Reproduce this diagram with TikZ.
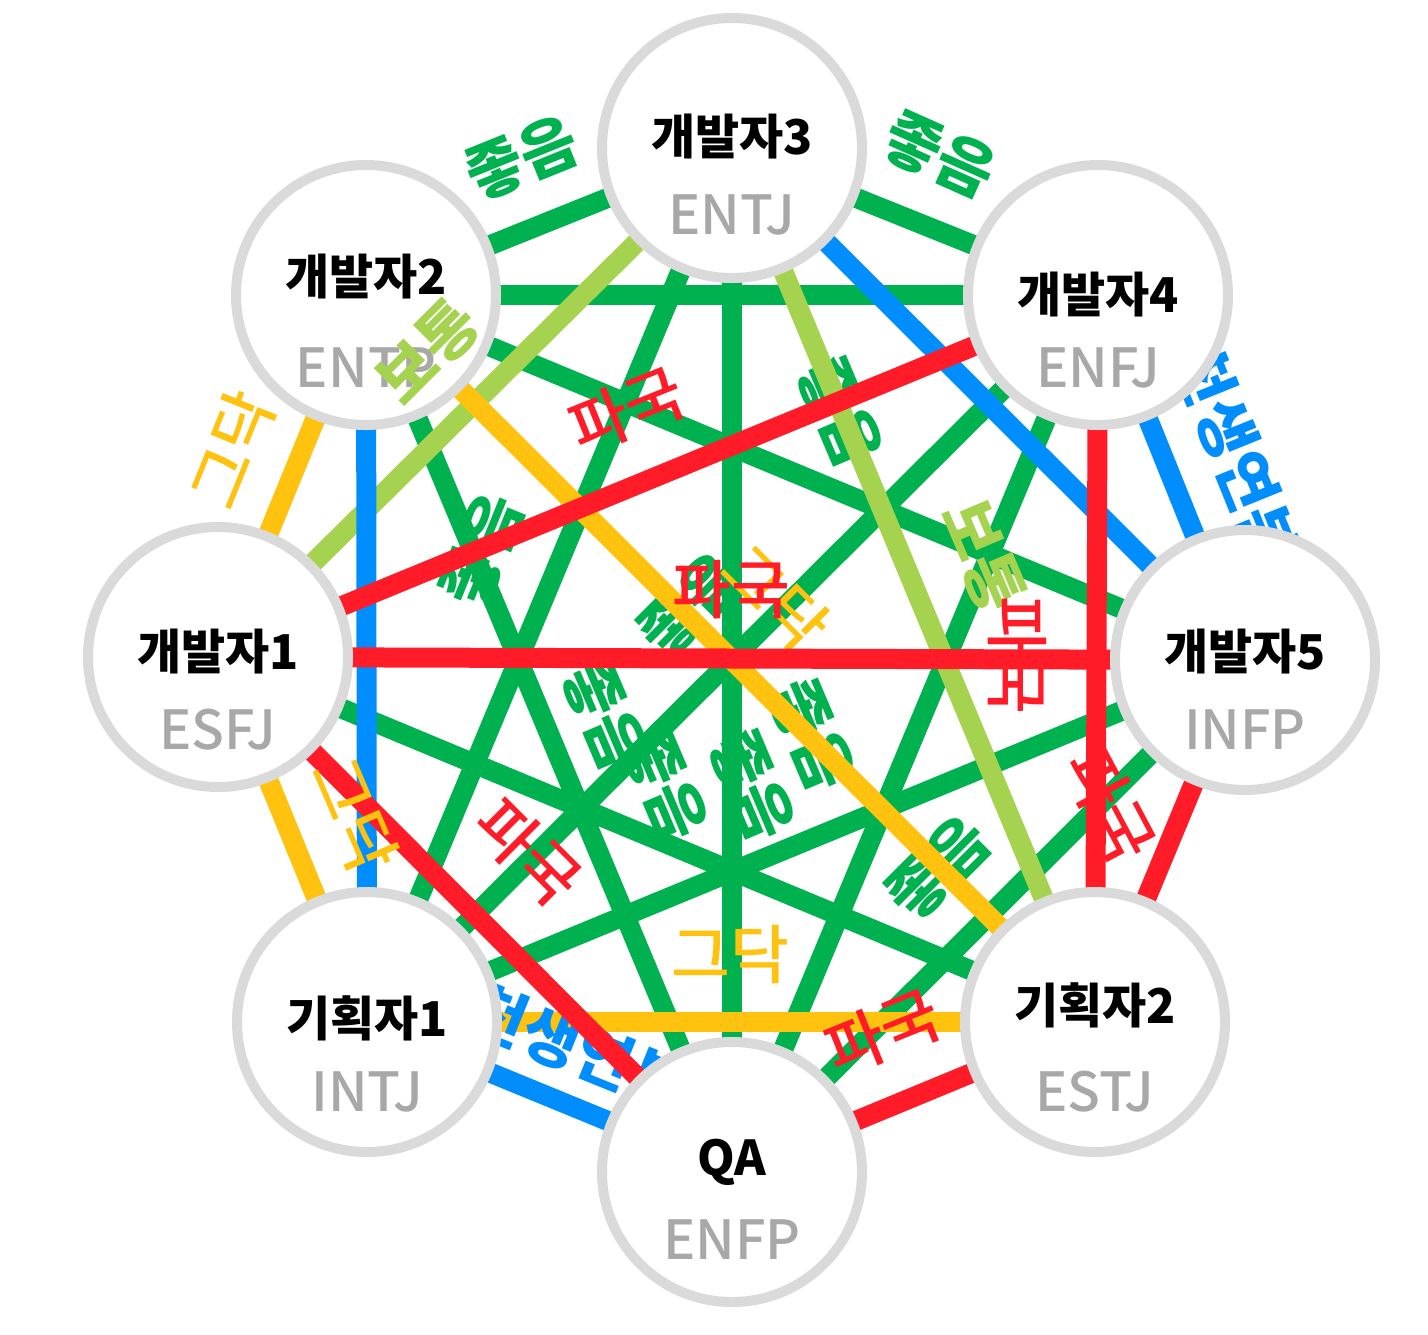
\documentclass[tikz,border=0pt]{standalone}
\usepackage{fontspec}
\setmainfont{Noto Sans CJK KR}
\newfontfamily\krmed{Noto Sans CJK KR Medium}
\usetikzlibrary{calc}
\definecolor{cg}{RGB}{0,177,79}
\definecolor{clg}{RGB}{165,211,80}
\definecolor{cy}{RGB}{255,194,14}
\definecolor{cr}{RGB}{255,28,40}
\definecolor{cb}{RGB}{0,142,255}
\definecolor{ring}{RGB}{218,218,218}
\definecolor{mbtigray}{RGB}{168,168,168}
\pgfdeclarelayer{paper}
\pgfdeclarelayer{bg}
\pgfdeclarelayer{fg}
\pgfsetlayers{paper,bg,main,fg}
\tikzset{
  person/.style={circle, draw=ring, line width=5pt, fill=white, minimum size=130pt, inner sep=0pt},
  pname/.style={inner sep=0pt, text=black, font=\bfseries\fontsize{24pt}{24pt}\selectfont},
  pmbti/.style={inner sep=0pt, text=mbtigray, font=\krmed\fontsize{27pt}{27pt}\selectfont},
  edge/.style={line width=10pt},
  labb/.style={inner sep=0pt, font=\bfseries\fontsize{31pt}{31pt}\selectfont},
  labm/.style={inner sep=0pt, font=\krmed\fontsize{32pt}{32pt}\selectfont},
}
\newcommand\mkperson[7]{%
  \node[person] (#1) at (#2,#3) {};
  \node[pname] (#1n) at ($(#1.center)+(0,#6)$) {#4};
  \node[pmbti] (#1t) at ($(#1.center)+(0,#7)$) {#5};}
\begin{document}
\begin{tikzpicture}[x=0.5pt,y=-0.5pt]
\begin{pgfonlayer}{paper}
\fill[white] (0,0) rectangle (1428,1334);
\end{pgfonlayer}
\useasboundingbox (0,0) rectangle (1428,1334);
% nodes
\mkperson{D3}{732}{148}{개발자3}{ENTJ}{-11}{67}
\mkperson{D2}{366}{295}{개발자2}{ENTP}{-18}{73}
\mkperson{D4}{1098}{295}{개발자4}{ENFJ}{0}{73}
\mkperson{D1}{218}{657}{개발자1}{ESFJ}{-5}{73}
\mkperson{D5}{1245}{660}{개발자5}{INFP}{-8}{70}
\mkperson{P1}{367}{1022}{기획자1}{INTJ}{-4}{70}
\mkperson{P2}{1095}{1022}{기획자2}{ESTJ}{-17}{70}
\mkperson{QA}{732}{1172}{QA}{ENFP}{-10}{68}
\begin{pgfonlayer}{bg}
% green edges
\foreach \a/\b in {D2/D3,D3/D4,D2/D4,D2/D5,D2/QA,D3/P1,D3/QA,D4/P1,D4/QA,D1/P2,D5/P1,D5/QA}
  \draw[edge, draw=cg] (\a.center) -- (\b.center);
% green labels
\node[labb, text=cg, rotate=22]  (G1) at (522,158) {좋음};
\node[labb, text=cg, rotate=-24] (G2) at (940,155) {좋음};
\node[labb, text=cg, rotate=-67] (G3) at (840,412) {좋음};
\node[labb, text=cg, rotate=68]  (G4) at (482,550) {좋음};
\node[labb, text=cg, rotate=45]  (G5) at (690,605) {좋음};
\node[labb, text=cg, rotate=-67] (G6) at (605,715) {좋음};
\node[labb, text=cg, rotate=-67] (G7) at (665,785) {좋음};
\node[labb, text=cg, rotate=-67] (G8) at (752,785) {좋음};
\node[labb, text=cg, rotate=-67] (G9) at (812,735) {좋음};
\node[labb, text=cg, rotate=45]  (G10) at (938,868) {좋음};
% light green
\foreach \a/\b in {D1/D3,D3/P2}
  \draw[edge, draw=clg] (\a.center) -- (\b.center);
\node[labb, text=clg, rotate=-67] (L2) at (983,556) {보통};
% yellow
\foreach \a/\b in {D1/D2,D1/P1,D2/P2,P1/P2}
  \draw[edge, draw=cy] (\a.center) -- (\b.center);
\node[labm, text=cy, rotate=68]  (Y1) at (232,450) {그닥};
\node[labm, text=cy, rotate=-45] (Y2) at (775,598) {그닥};
\node[labm, text=cy]             (Y4) at (730,955) {그닥};
% blue
\foreach \a/\b in {D2/P1,D3/D5,D4/D5,P1/QA}
  \draw[edge, draw=cb] (\a.center) -- (\b.center);
\node[labb, text=cb, rotate=-68] (B1) at (1237,455) {천생연분};
\node[labb, text=cb, rotate=-22] (B2) at (578,1048) {천생연분};
% red
\foreach \a/\b in {D1/D4,D1/D5,D1/QA,D4/P2,D5/P2,P2/QA}
  \draw[edge, draw=cr] (\a.center) -- (\b.center);
\node[labm, text=cy, rotate=-67] (Y3) at (355,815) {그닥};
\node[labm, text=cr, rotate=22]  (R1) at (627,410) {파국};
\node[labm, text=cr]             (R2) at (731,590) {파국};
\node[labm, text=cr, rotate=-90] (R3) at (1017,655) {파국};
\node[labm, text=cr, rotate=-62] (R4) at (1110,805) {파국};
\node[labm, text=cr, rotate=-45] (R5) at (528,852) {파국};
\node[labm, text=cr, rotate=22]  (R6) at (883,1032) {파국};
\end{pgfonlayer}
\begin{pgfonlayer}{fg}
\node[labb, text=clg, rotate=45] (L1) at (428,352) {보통};
\end{pgfonlayer}
\end{tikzpicture}
\end{document}
